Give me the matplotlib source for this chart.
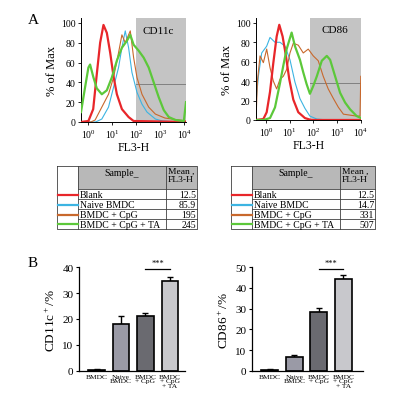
import numpy as np
import matplotlib
matplotlib.use("Agg")
from matplotlib import pyplot as plt
from matplotlib.patches import Rectangle

plt.rcParams['font.family'] = ['Liberation Serif', 'DejaVu Serif']
plt.rcParams['mathtext.fontset'] = 'custom'
plt.rcParams['mathtext.rm'] = 'Liberation Serif'

# ---- histogram data (log10 of FL3-H, % of Max) ----
samples = ["Blank", "Naive BMDC", "BMDC + CpG", "BMDC + CpG + TA"]
colors = ["#e8262a", "#3cb4e2", "#c8682c", "#5cc83a"]
widths = [1.6, 0.8, 0.8, 1.6]

cd11c_mean = ["12.5", "85.9", "195", "245"]
cd86_mean = ["12.5", "14.7", "331", "507"]

cd11c_red_x = [-0.31, 0.0, 0.2, 0.34, 0.49, 0.63, 0.77, 0.91, 1.05, 1.19, 1.4, 1.68, 1.89, 4.08]
cd11c_red_y = [0, 1, 13, 46, 80, 98, 90, 70, 46, 28, 13, 5, 1, 0]
cd11c_cyan_x = [-0.31, 0.3, 0.56, 0.84, 1.05, 1.26, 1.4, 1.54, 1.68, 1.82, 2.03, 2.24, 2.45, 2.8, 3.1, 3.6, 4.08]
cd11c_cyan_y = [0, 0, 3, 15, 35, 55, 75, 92, 75, 50, 30, 18, 10, 3, 1, 0, 0]
cd11c_orange_x = [-0.31, 0.1, 0.28, 0.56, 0.84, 1.05, 1.26, 1.4, 1.54, 1.75, 1.89, 2.03, 2.24, 2.52, 2.8, 3.2, 3.8, 4.08]
cd11c_orange_y = [0, 0, 2, 15, 28, 45, 70, 88, 80, 92, 65, 45, 28, 15, 8, 4, 2, 1]
cd11c_green_x = [-0.31, -0.14, 0.0, 0.07, 0.21, 0.35, 0.56, 0.77, 0.98, 1.19, 1.4, 1.61, 1.75, 1.89, 2.1,
                 2.31, 2.52, 2.73, 2.94, 3.15, 3.36, 3.64, 3.99, 4.08]
cd11c_green_y = [10, 35, 55, 58, 45, 34, 28, 32, 45, 62, 75, 82, 88, 78, 72, 65, 55, 40, 25, 12, 5, 2, 1, 20]

cd86_red_x = [-0.42, -0.11, 0.03, 0.17, 0.31, 0.45, 0.56, 0.7, 0.84, 0.98, 1.15, 1.36, 1.64, 1.9, 4.0]
cd86_red_y = [0, 1, 8, 29, 59, 86, 98, 86, 66, 42, 21, 8, 2, 0, 0]
cd86_cyan_x = [-0.42, -0.32, -0.18, 0.03, 0.17, 0.38, 0.59, 0.8, 1.01, 1.22, 1.43, 1.64, 1.85, 2.14, 2.6, 4.0]
cd86_cyan_y = [18, 45, 69, 76, 85, 80, 80, 76, 62, 39, 22, 12, 4, 1, 0, 0]
cd86_orange_x = [-0.42, -0.36, -0.25, -0.11, 0.03, 0.17, 0.31, 0.45, 0.59, 0.73, 0.87, 1.01, 1.15, 1.36,
                 1.57, 1.78, 1.99, 2.2, 2.41, 2.62, 2.84, 3.05, 3.26, 3.54, 3.82, 3.96, 3.99]
cd86_orange_y = [0, 40, 66, 59, 73, 54, 40, 32, 42, 45, 52, 69, 79, 77, 69, 73, 66, 61, 45, 32, 22, 13, 6, 5, 4, 4, 45]
cd86_green_x = [-0.42, -0.11, 0.17, 0.38, 0.59, 0.73, 0.87, 1.08, 1.22, 1.43, 1.57, 1.71, 1.85, 1.99, 2.14,
                2.35, 2.56, 2.7, 2.91, 3.12, 3.33, 3.54, 3.82, 4.0]
cd86_green_y = [0, 0, 2, 13, 38, 56, 73, 90, 76, 62, 49, 37, 27, 35, 45, 61, 66, 62, 45, 28, 18, 11, 4, 2]

# ---- bar data ----
groups = ["BMDC", "Naive\nBMDC", "BMDC\n+ CpG", "BMDC\n+ CpG\n+ TA"]
bar_colors = ["#4a4a50", "#9a9aa6", "#6a6a70", "#c8c8cc"]
cd11c_pct = [0.5, 18.0, 21.3, 34.5]
cd11c_err = [0.3, 3.0, 1.2, 1.8]
cd86_pct = [0.5, 6.8, 28.5, 44.0]
cd86_err = [0.3, 0.7, 2.0, 2.0]

W, H = 397, 402
fig = plt.figure(figsize=(W / 100, H / 100), dpi=100)


def box(x0, y0, x1, y1):
    # pixel box (top-left origin) -> figure fraction
    return [x0 / W, 1 - y1 / H, (x1 - x0) / W, (y1 - y0) / H]


def hist_panel(rect, curves, xlo, xhi, gate, name):
    ax = fig.add_axes(rect)
    ax.axvspan(gate, 10 ** xhi, color="#c4c4c4", zorder=0, lw=0)
    ax.plot([gate, 10 ** xhi], [38, 38], color="#808080", lw=0.7, zorder=1)
    for (xs, ys), c, w in zip(curves, colors, widths):
        ax.plot(10 ** np.array(xs), ys, color=c, lw=w, zorder=3 if w > 1 else 2)
    ax.set_xscale("log")
    ax.set_xlim(10 ** xlo, 10 ** xhi)
    ax.set_ylim(0, 105)
    ax.set_yticks([0, 20, 40, 60, 80, 100])
    ax.set_xticks([1, 10, 100, 1000, 10000])
    ax.tick_params(labelsize=7, length=2.5, width=0.6, pad=1.5)
    ax.tick_params(which="minor", length=1.5, width=0.5)
    ax.spines[["top", "right"]].set_visible(False)
    ax.spines[["left", "bottom"]].set_linewidth(0.7)
    ax.set_ylabel("% of Max", fontsize=9, labelpad=2)
    ax.set_xlabel("FL3-H", fontsize=8.5, labelpad=1)
    ax.text(0.88, 0.86, name, transform=ax.transAxes, ha="right", fontsize=8)
    return ax


hist_panel(box(81, 19, 186, 123),
           [(cd11c_red_x, cd11c_red_y), (cd11c_cyan_x, cd11c_cyan_y),
            (cd11c_orange_x, cd11c_orange_y), (cd11c_green_x, cd11c_green_y)],
           -0.31, 4.08, 100, "CD11c")
hist_panel(box(256, 19, 361, 121),
           [(cd86_red_x, cd86_red_y), (cd86_cyan_x, cd86_cyan_y),
            (cd86_orange_x, cd86_orange_y), (cd86_green_x, cd86_green_y)],
           -0.42, 4.0, 70, "CD86")

# overlay in pixel coords for tables and panel letters
ov = fig.add_axes([0, 0, 1, 1])
ov.set_xlim(0, W)
ov.set_ylim(H, 0)
ov.axis("off")


def table(x0, x1, x2, x3, means):
    y0, yh = 167, 190
    rows = [190, 200, 210, 220, 229.5]
    ov.add_patch(Rectangle((x1, y0), x3 - x1, yh - y0, facecolor="#b8b8b8", edgecolor="none"))
    lc = "#404040"
    ov.plot([x0, x3, x3, x0, x0], [y0, y0, rows[-1], rows[-1], y0], color=lc, lw=0.6)
    for xx in (x1, x2):
        ov.plot([xx, xx], [y0, rows[-1]], color=lc, lw=0.6)
    for yy in rows[:-1]:
        ov.plot([x1, x3], [yy, yy], color=lc, lw=0.6)
    ov.text((x1 + x2) / 2, y0 + 2, "Sample_", ha="center", va="top", fontsize=7)
    ov.text(x2 + 1.5, y0 + 1, "Mean ,\nFL3-H", ha="left", va="top", fontsize=6.8, linespacing=1.05)
    for i, (s, m) in enumerate(zip(samples, means)):
        yc = (rows[i] + rows[i + 1]) / 2
        ov.plot([x0 + 1, x1], [yc + 0.5, yc + 0.5], color=colors[i], lw=1.6)
        ov.text(x1 + 1.5, yc + 0.5, s, ha="left", va="center", fontsize=7)
        ov.text(x3 - 1, yc + 0.5, m, ha="right", va="center", fontsize=7)


table(57, 78, 166, 197, cd11c_mean)
table(231, 252, 340, 375, cd86_mean)

ov.text(33, 20, "A", fontsize=11, ha="center", va="center")
ov.text(33, 264, "B", fontsize=11, ha="center", va="center")


def bar_panel(rect, vals, errs, ymax, step, ylabel, xr, sig_y):
    ax = fig.add_axes(rect)
    xs = np.arange(len(vals))
    ax.bar(xs, vals, width=0.68, color=bar_colors, edgecolor="black", linewidth=1.2, zorder=2)
    ax.errorbar(xs, vals, yerr=[np.zeros(len(errs)), errs], fmt="none", ecolor="black",
                elinewidth=1.0, capsize=2.5, capthick=1.0, zorder=1)
    ax.set_xlim(-0.72, xr)
    ax.set_ylim(0, ymax)
    ax.set_yticks(np.arange(0, ymax + 1, step))
    ax.set_xticks(xs)
    ax.set_xticklabels(groups, fontsize=5.4, linespacing=0.9)
    ax.tick_params(axis="x", length=0, pad=2)
    ax.tick_params(axis="y", labelsize=8, length=2.5, width=0.8, pad=1.5)
    ax.spines[["top", "right"]].set_visible(False)
    ax.spines[["left", "bottom"]].set_linewidth(0.9)
    ax.set_ylabel(ylabel, fontsize=9.5, labelpad=3)
    ax.plot([2, 3], [sig_y, sig_y], color="black", lw=0.9, clip_on=False)
    ax.text(2.5, sig_y + ymax * 0.015, "***", ha="center", va="bottom", fontsize=6)
    return ax


bar_panel(box(79, 268, 185, 372), cd11c_pct, cd11c_err, 40, 10, "CD11c$^+$/%", 3.62, 39.3)
bar_panel(box(252, 268, 363, 372), cd86_pct, cd86_err, 50, 10, "CD86$^+$/%", 3.8, 49.2)

fig.savefig("out.png", dpi=100)
